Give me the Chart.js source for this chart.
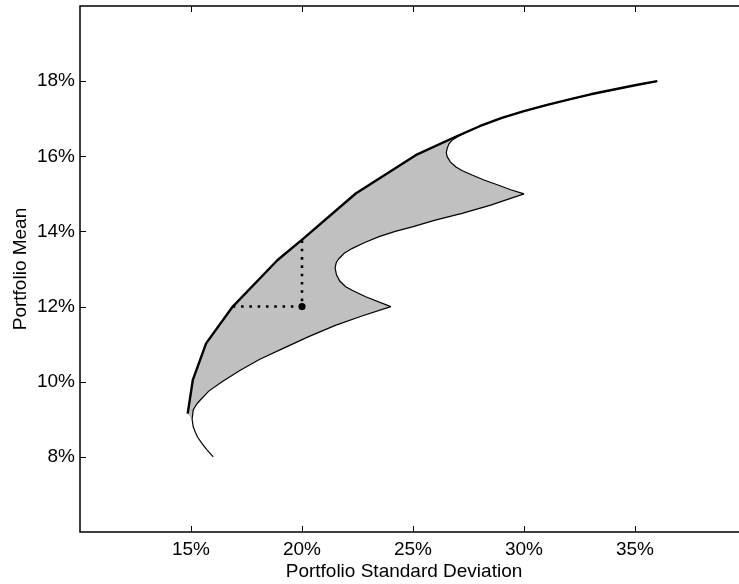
<!DOCTYPE html>
<html>
<head>
<meta charset="utf-8">
<title>Portfolio frontier</title>
<script src="https://cdn.jsdelivr.net/npm/chart.js@4.4.0/dist/chart.umd.min.js"></script>
<style>
  html, body { margin: 0; padding: 0; background: #fff; overflow: hidden; }
</style>
</head>
<body>
<canvas id="frontierChart" width="750" height="584"></canvas>
<script>
// axis ticks (%)
const sdTicks = [15, 20, 25, 30, 35];
const meanTicks = [8, 10, 12, 14, 16, 18];

// efficient frontier of all four assets (thick line)
const frontierSd   = [14.85, 15.08, 15.68, 16.88, 18.90, 20.02, 22.42, 25.12, 26.92, 28.00, 29.00, 30.00, 31.00, 32.00, 33.00, 34.00, 35.00, 36.00];
const frontierMean = [ 9.15, 10.04, 11.02, 12.00, 13.24, 13.79, 15.01, 16.03, 16.52, 16.80, 17.02, 17.20, 17.36, 17.51, 17.65, 17.77, 17.89, 18.00];

// two-asset curves (thin lines): A-B, B-C, C-D
const abSd   = [16.00, 15.70, 15.50, 15.30, 15.20, 15.10, 15.05, 15.10, 15.25, 15.40, 15.80, 16.40, 17.20, 18.10, 19.20, 20.30, 21.50, 22.70, 24.00];
const abMean = [ 8.00,  8.20,  8.35,  8.52,  8.65,  8.80,  9.00,  9.25,  9.40,  9.50,  9.75, 10.00, 10.30, 10.60, 10.90, 11.20, 11.50, 11.75, 12.00];

const bcSd   = [24.00, 22.87, 22.30, 21.97, 21.70, 21.55, 21.49, 21.55, 21.67, 21.90, 22.27, 22.80, 23.47, 24.20, 24.97, 26.00, 27.21, 28.50, 30.00];
const bcMean = [12.00, 12.26, 12.42, 12.53, 12.68, 12.85, 13.04, 13.18, 13.28, 13.42, 13.55, 13.70, 13.86, 14.00, 14.12, 14.30, 14.48, 14.70, 15.00];

const cdSd   = [30.00, 29.40, 28.86, 28.20, 27.66, 27.20, 26.92, 26.68, 26.54, 26.50, 26.54, 26.62, 26.76, 26.95, 27.14, 28.00, 29.00, 30.00, 31.00, 32.00, 33.00, 34.00, 35.00, 36.00];
const cdMean = [15.00, 15.11, 15.23, 15.37, 15.50, 15.62, 15.72, 15.85, 15.99, 16.10, 16.21, 16.33, 16.43, 16.50, 16.56, 16.80, 17.02, 17.20, 17.36, 17.51, 17.65, 17.77, 17.89, 18.00];

// the portfolio and its dotted guides to the frontier
const portfolioSd = [20];
const portfolioMean = [12];
const guideSd   = [16.88, 20.00, 20.00];
const guideMean = [12.00, 12.00, 13.79];

const toPoints = (xs, ys) => xs.map((v, i) => ({ x: v, y: ys[i] }));

// shaded set: up the frontier, back down the thin curves to the
// minimum-variance point of the A-B curve
const abMinIdx = abSd.indexOf(Math.min(...abSd));
const regionPoints = [
  ...toPoints(frontierSd, frontierMean),
  ...toPoints(cdSd, cdMean).reverse(),
  ...toPoints(bcSd, bcMean).reverse(),
  ...toPoints(abSd, abMean).slice(abMinIdx).reverse()
];

const FONT = { family: "'Liberation Sans', Arial, Helvetica, sans-serif", size: 19 };
const X_TITLE = 'Portfolio Standard Deviation';

// box around the plot with inward tick marks, plus the x-axis title
const axesBox = {
  id: 'axesBox',
  afterDatasetsDraw(chart) {
    const { ctx, chartArea: a, scales: { x, y } } = chart;
    ctx.save();
    ctx.strokeStyle = '#000';
    ctx.lineWidth = 1;
    ctx.beginPath();
    x.ticks.forEach(t => {
      const px = Math.round(x.getPixelForValue(t.value)) + 0.5;
      ctx.moveTo(px, a.bottom); ctx.lineTo(px, a.bottom - 6);
      ctx.moveTo(px, a.top); ctx.lineTo(px, a.top + 6);
    });
    y.ticks.forEach(t => {
      const py = Math.round(y.getPixelForValue(t.value)) + 0.5;
      ctx.moveTo(a.left, py); ctx.lineTo(a.left + 6, py);
      ctx.moveTo(a.right, py); ctx.lineTo(a.right - 6, py);
    });
    ctx.stroke();
    ctx.lineWidth = 1.5;
    ctx.strokeRect(a.left, a.top, a.right - a.left, a.bottom - a.top);

    ctx.fillStyle = '#000';
    ctx.font = `${FONT.size}px ${FONT.family}`;
    ctx.textAlign = 'center';
    ctx.textBaseline = 'middle';
    ctx.fillText(X_TITLE, 404, 572);
    ctx.restore();
  }
};

new Chart(document.getElementById('frontierChart'), {
  type: 'scatter',
  data: {
    datasets: [
      {
        label: 'Portfolio',
        data: toPoints(portfolioSd, portfolioMean),
        pointRadius: 3.6,
        pointBackgroundColor: '#000',
        pointBorderWidth: 0,
        order: 0
      },
      {
        label: 'Guides',
        data: toPoints(guideSd, guideMean),
        showLine: true,
        borderColor: '#000',
        borderWidth: 2.6,
        borderDash: [2.6, 5.7],
        pointRadius: 0,
        order: 1
      },
      {
        label: 'Frontier',
        data: toPoints(frontierSd, frontierMean),
        showLine: true,
        borderColor: '#000',
        borderWidth: 2.4,
        borderJoinStyle: 'round',
        pointRadius: 0,
        order: 2
      },
      {
        label: 'A-B',
        data: toPoints(abSd, abMean),
        showLine: true,
        borderColor: '#000',
        borderWidth: 1.2,
        pointRadius: 0,
        order: 3
      },
      {
        label: 'B-C',
        data: toPoints(bcSd, bcMean),
        showLine: true,
        borderColor: '#000',
        borderWidth: 1.2,
        pointRadius: 0,
        order: 3
      },
      {
        label: 'C-D',
        data: toPoints(cdSd, cdMean),
        showLine: true,
        borderColor: '#000',
        borderWidth: 1.2,
        pointRadius: 0,
        order: 3
      },
      {
        label: 'Feasible set',
        data: regionPoints,
        showLine: true,
        fill: 'shape',
        backgroundColor: 'rgb(192,192,192)',
        borderWidth: 0,
        pointRadius: 0,
        order: 10
      }
    ]
  },
  options: {
    responsive: false,
    animation: false,
    devicePixelRatio: 1,
    layout: { padding: { top: 6, right: 2, left: 0, bottom: 0 } },
    plugins: {
      legend: { display: false },
      tooltip: { enabled: false }
    },
    scales: {
      x: {
        type: 'linear',
        min: 10,
        max: 40,
        afterFit: s => { s.height = 52; s.paddingLeft = 0; s.paddingRight = 0; },
        afterBuildTicks: s => { s.ticks = sdTicks.map(v => ({ value: v })); },
        grid: { display: false, drawTicks: false },
        border: { display: false },
        ticks: { color: '#000', font: FONT, padding: 6, maxRotation: 0, callback: v => v + '%' }
      },
      y: {
        type: 'linear',
        min: 6,
        max: 20,
        afterFit: s => { s.width = 80; s.paddingTop = 0; s.paddingBottom = 0; },
        afterBuildTicks: s => { s.ticks = meanTicks.map(v => ({ value: v })); },
        grid: { display: false, drawTicks: false },
        border: { display: false },
        ticks: { color: '#000', font: FONT, padding: 5, callback: v => v + '%' },
        title: { display: true, text: 'Portfolio Mean', color: '#000', font: FONT, padding: { top: 9, bottom: 0 } }
      }
    }
  },
  plugins: [axesBox]
});
</script>
</body>
</html>
